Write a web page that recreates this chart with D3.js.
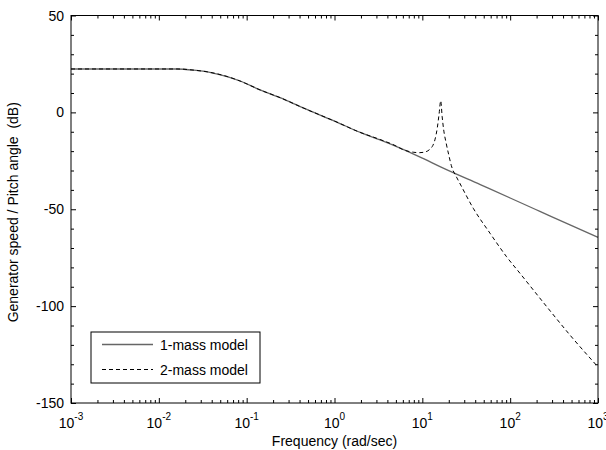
<!DOCTYPE html>
<meta charset="utf-8">
<head>
<script src="https://d3js.org/d3.v7.min.js"></script>
<style>
  body { margin: 0; background: #fff; }
  text { font-family: "Liberation Sans", Arial, sans-serif; fill: #000; white-space: pre; }
</style>
</head>
<body>
<svg id="chart" width="606" height="450"></svg>

<script>
// 1-mass model (frequency in rad/sec, magnitude in dB)
var freq1 = [0.001, 0.016, 0.025, 0.038, 0.06, 0.084, 0.142, 0.24, 0.44, 1.0, 2.0, 3.3, 4.3, 10, 15.9, 45.7, 100, 218, 480, 1000];
var mag1  = [22.4, 22.4, 21.8, 20.7, 18.5, 16.2, 11.6, 7.6, 2.3, -4.5, -10.5, -14.2, -16.3, -23.6, -28.0, -37.3, -44.2, -51.1, -58.1, -64.5];

// 2-mass model
var freq2 = [0.001, 0.016, 0.025, 0.038, 0.06, 0.084, 0.142, 0.24, 0.44, 1.0, 2.0, 3.3, 5, 6, 8, 9.3, 11, 12.2, 13.2, 13.9, 14.8, 15.5, 16.2, 16.8, 17.5, 18.7, 20, 21.4, 24.5, 26.5, 38, 59, 91, 129, 261, 479, 1000];
var mag2  = [22.4, 22.4, 21.8, 20.7, 18.5, 16.2, 11.6, 7.6, 2.3, -4.5, -10.5, -14.0, -17.3, -19.2, -20.6, -20.8, -20.3, -19.0, -17.0, -14.2, -8.0, -1.0, 6.0, -2.0, -9.0, -16.0, -22.0, -27.5, -33.4, -36.3, -49.5, -62.4, -74.5, -83.0, -100.3, -114.9, -131.4];

var seriesNames = ["1-mass model", "2-mass model"];
var xTickExps = [-3, -2, -1, 0, 1, 2, 3];
var yTicks = [-150, -100, -50, 0, 50];
var xLabel = "Frequency (rad/sec)";
var yLabel = "Generator speed / Pitch angle  (dB)";

var svg = d3.select("#chart"),
  margin = {top: 15.5, right: 8, bottom: 47, left: 71},
  width = +svg.attr("width") - margin.left - margin.right,
  height = +svg.attr("height") - margin.top - margin.bottom;

var g = svg.append("g")
  .attr("transform", "translate(" + margin.left + "," + margin.top + ")");

var x = d3.scaleLog().domain([1e-3, 1e3]).range([0, width]);
var y = d3.scaleLinear().domain([-150, 50]).range([height, 0]);

// tick positions
var majorX = xTickExps.map(function (e) { return Math.pow(10, e); });
var minorX = x.ticks().filter(function (v) { return majorX.indexOf(v) < 0; });
var minorY = d3.range(-150, 51, 10).filter(function (v) { return yTicks.indexOf(v) < 0; });

// inward ticks on all four sides
function tickLayer(axis, tx, ty) {
  var a = g.append("g")
    .attr("transform", "translate(" + tx + "," + ty + ")")
    .call(axis.tickFormat("").tickSizeOuter(0));
  a.select(".domain").remove();
  a.selectAll("line").attr("stroke", "#000").attr("stroke-width", 1);
}
tickLayer(d3.axisTop(x).tickValues(majorX).tickSizeInner(5), 0, height);
tickLayer(d3.axisTop(x).tickValues(minorX).tickSizeInner(3), 0, height);
tickLayer(d3.axisBottom(x).tickValues(majorX).tickSizeInner(5), 0, 0);
tickLayer(d3.axisBottom(x).tickValues(minorX).tickSizeInner(3), 0, 0);
tickLayer(d3.axisRight(y).tickValues(yTicks).tickSizeInner(5), 0, 0);
tickLayer(d3.axisRight(y).tickValues(minorY).tickSizeInner(3), 0, 0);
tickLayer(d3.axisLeft(y).tickValues(yTicks).tickSizeInner(5), width, 0);
tickLayer(d3.axisLeft(y).tickValues(minorY).tickSizeInner(3), width, 0);

// curves
var line = d3.line()
  .x(function (d) { return x(d[0]); })
  .y(function (d) { return y(d[1]); })
  .curve(d3.curveMonotoneX);

g.append("path")
  .datum(d3.zip(freq1, mag1))
  .attr("fill", "none")
  .attr("stroke", "#666")
  .attr("stroke-width", 1.3)
  .attr("d", line);

g.append("path")
  .datum(d3.zip(freq2, mag2))
  .attr("fill", "none")
  .attr("stroke", "#000")
  .attr("stroke-width", 1)
  .attr("stroke-dasharray", "4,3")
  .attr("d", line);

// frame
g.append("rect")
  .attr("width", width)
  .attr("height", height)
  .attr("fill", "none")
  .attr("stroke", "#000")
  .attr("stroke-width", 1);

// y tick labels
g.selectAll(".ylab")
  .data(yTicks)
  .enter().append("text")
    .attr("x", -7)
    .attr("y", function (d) { return y(d); })
    .attr("dy", "0.36em")
    .attr("text-anchor", "end")
    .style("font-size", "14px")
    .text(function (d) { return d; });

// x tick labels with superscript exponents
var xl = g.selectAll(".xlab")
  .data(xTickExps)
  .enter().append("text")
    .attr("x", function (d) { return x(Math.pow(10, d)); })
    .attr("y", height + 25)
    .attr("text-anchor", "middle")
    .style("font-size", "14px");
xl.append("tspan").text("10");
xl.append("tspan")
  .attr("dy", -8)
  .style("font-size", "10px")
  .text(function (d) { return d; });

// axis titles
g.append("text")
  .attr("x", width / 2)
  .attr("y", height + 43)
  .attr("text-anchor", "middle")
  .style("font-size", "14px")
  .text(xLabel);

g.append("text")
  .attr("transform", "translate(" + (-53) + "," + (height / 2 + 3) + ") rotate(-90)")
  .attr("text-anchor", "middle")
  .style("font-size", "14px")
  .text(yLabel);

// legend
var lg = svg.append("g").attr("transform", "translate(91,332)");
lg.append("rect")
  .attr("width", 169)
  .attr("height", 51)
  .attr("fill", "#fff")
  .attr("stroke", "#000")
  .attr("stroke-width", 1);

var legendStyles = [
  {stroke: "#666", width: 1.3, dash: null},
  {stroke: "#000", width: 1, dash: "4,3"}
];
seriesNames.forEach(function (name, i) {
  var yy = 12.5 + i * 25;
  lg.append("line")
    .attr("x1", 11).attr("x2", 62)
    .attr("y1", yy).attr("y2", yy)
    .attr("stroke", legendStyles[i].stroke)
    .attr("stroke-width", legendStyles[i].width)
    .attr("stroke-dasharray", legendStyles[i].dash);
  lg.append("text")
    .attr("x", 69)
    .attr("y", yy)
    .attr("dy", "0.36em")
    .style("font-size", "14px")
    .text(name);
});
</script>
</body>
